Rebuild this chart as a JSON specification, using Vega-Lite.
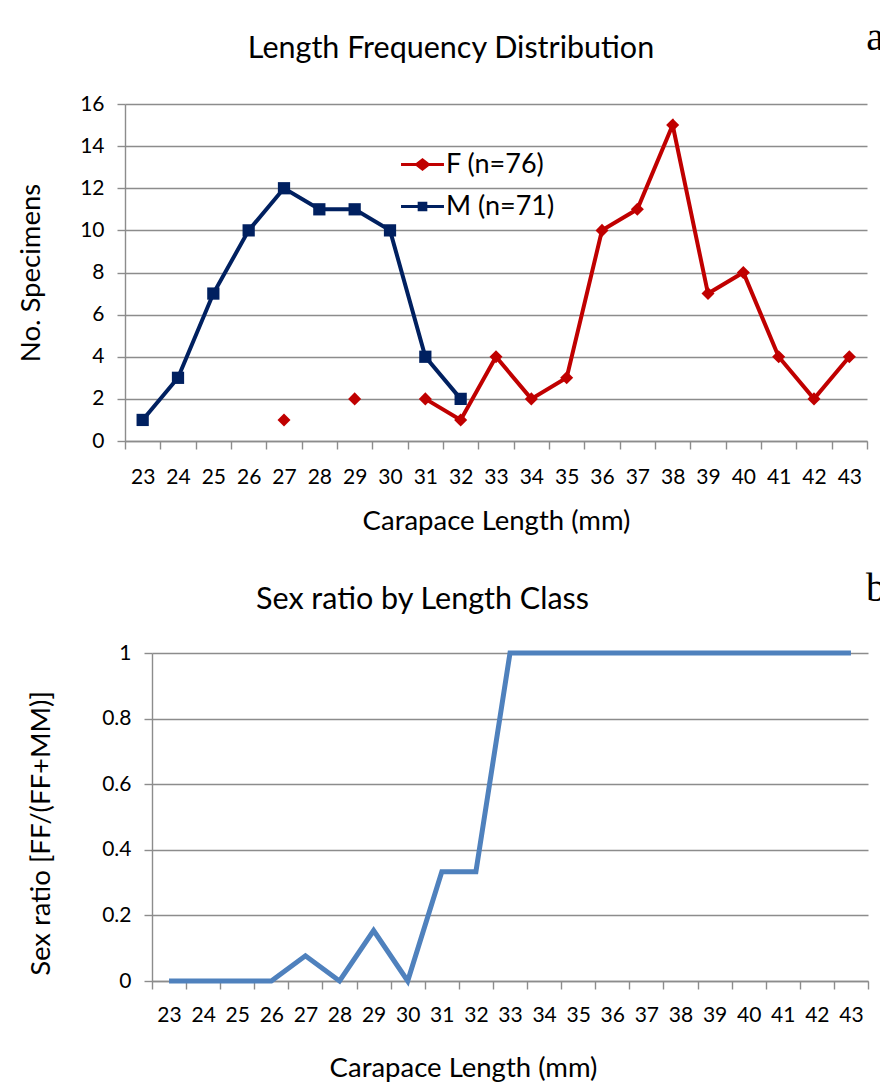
{
  "$schema": "https://vega.github.io/schema/vega-lite/v6.json",
  "padding": {"left": 17, "top": 18, "right": 0, "bottom": 0},
  "background": "white",
  "config": {
    "font": "Lato",
    "view": {"stroke": null},
    "axis": {
      "labelFont": "Lato", "titleFont": "Lato", "labelFontSize": 21, "titleFontSize": 27.5,
      "titleFontWeight": "normal", "labelColor": "#000", "titleColor": "#000",
      "domainColor": "#8c8c8c", "tickColor": "#8c8c8c", "gridColor": "#8c8c8c",
      "tickSize": 8, "domainWidth": 1.4, "gridWidth": 1.3, "tickWidth": 1.4
    },
    "title": {"font": "Lato", "fontSize": 30.5, "fontWeight": "normal", "color": "#000"},
    "legend": {"labelFont": "Lato"}
  },
  "datasets": {
    "freq": [
      {"len": 23, "sex": "M (n=71)", "n": 1},
      {"len": 24, "sex": "M (n=71)", "n": 3},
      {"len": 25, "sex": "M (n=71)", "n": 7},
      {"len": 26, "sex": "M (n=71)", "n": 10},
      {"len": 27, "sex": "M (n=71)", "n": 12},
      {"len": 28, "sex": "M (n=71)", "n": 11},
      {"len": 29, "sex": "M (n=71)", "n": 11},
      {"len": 30, "sex": "M (n=71)", "n": 10},
      {"len": 31, "sex": "M (n=71)", "n": 4},
      {"len": 32, "sex": "M (n=71)", "n": 2},
      {"len": 27, "sex": "F (n=76)", "n": 1},
      {"len": 28, "sex": "F (n=76)", "n": null},
      {"len": 29, "sex": "F (n=76)", "n": 2},
      {"len": 30, "sex": "F (n=76)", "n": null},
      {"len": 31, "sex": "F (n=76)", "n": 2},
      {"len": 32, "sex": "F (n=76)", "n": 1},
      {"len": 33, "sex": "F (n=76)", "n": 4},
      {"len": 34, "sex": "F (n=76)", "n": 2},
      {"len": 35, "sex": "F (n=76)", "n": 3},
      {"len": 36, "sex": "F (n=76)", "n": 10},
      {"len": 37, "sex": "F (n=76)", "n": 11},
      {"len": 38, "sex": "F (n=76)", "n": 15},
      {"len": 39, "sex": "F (n=76)", "n": 7},
      {"len": 40, "sex": "F (n=76)", "n": 8},
      {"len": 41, "sex": "F (n=76)", "n": 4},
      {"len": 42, "sex": "F (n=76)", "n": 2},
      {"len": 43, "sex": "F (n=76)", "n": 4}
    ],
    "ratio": [
      {"len": 23, "ratio": 0},
      {"len": 24, "ratio": 0},
      {"len": 25, "ratio": 0},
      {"len": 26, "ratio": 0},
      {"len": 27, "ratio": 0.0769},
      {"len": 28, "ratio": 0},
      {"len": 29, "ratio": 0.1538},
      {"len": 30, "ratio": 0},
      {"len": 31, "ratio": 0.3333},
      {"len": 32, "ratio": 0.3333},
      {"len": 33, "ratio": 1},
      {"len": 34, "ratio": 1},
      {"len": 35, "ratio": 1},
      {"len": 36, "ratio": 1},
      {"len": 37, "ratio": 1},
      {"len": 38, "ratio": 1},
      {"len": 39, "ratio": 1},
      {"len": 40, "ratio": 1},
      {"len": 41, "ratio": 1},
      {"len": 42, "ratio": 1},
      {"len": 43, "ratio": 1}
    ]
  },
  "vconcat": [
    {
      "width": 742,
      "height": 337,
      "title": {"text": "Length Frequency Distribution", "offset": -46, "dx": -45},
      "layer": [
        {
          "data": {"name": "freq"},
          "mark": {"type": "line", "strokeWidth": 4, "invalid": "break-paths-show-domains"},
          "encoding": {
            "x": {
              "field": "len", "type": "ordinal", "bandPosition": 0.5,
              "scale": {"type": "band", "domain": [23,24,25,26,27,28,29,30,31,32,33,34,35,36,37,38,39,40,41,42,43], "paddingInner": 0, "paddingOuter": 0},
              "axis": {"title": "Carapace Length (mm)", "tickBand": "extent", "labelAngle": 0, "grid": false, "labelPadding": 17, "titlePadding": 20}
            },
            "y": {
              "field": "n", "type": "quantitative",
              "scale": {"domain": [0, 16], "nice": false},
              "axis": {"values": [0,2,4,6,8,10,12,14,16], "title": "No. Specimens", "titlePadding": 34, "labelPadding": 13, "grid": true}
            },
            "color": {
              "field": "sex", "type": "nominal",
              "scale": {"domain": ["F (n=76)", "M (n=71)"], "range": ["#C00000", "#002060"]},
              "legend": {
                "orient": "none", "legendX": 284, "legendY": 47, "title": null,
                "labelFontSize": 27, "symbolSize": 720, "rowPadding": 14, "labelOffset": 10,
                "symbolStrokeWidth": 0,
                "encode": {"symbols": {"update": {
                  "shape": {"signal": "datum.value == 'F (n=76)' ? 'M-1.6,-0.11H-0.48L0,-0.48L0.48,-0.11H1.6V0.11H0.48L0,0.48L-0.48,0.11H-1.6Z' : 'M-1.6,-0.11H-0.36V-0.36H0.36V-0.11H1.6V0.11H0.36V0.36H-0.36V0.11H-1.6Z'"},
                  "fill": {"signal": "datum.value == 'F (n=76)' ? '#C00000' : '#002060'"},
                  "strokeWidth": {"value": 0}
                }}}
              }
            }
          }
        },
        {
          "data": {"name": "freq"},
          "transform": [{"filter": "datum.sex == 'F (n=76)'"}],
          "mark": {"type": "point", "filled": true, "opacity": 1, "size": 170, "shape": "diamond"},
          "encoding": {
            "x": {"field": "len", "type": "ordinal", "bandPosition": 0.5},
            "y": {"field": "n", "type": "quantitative"},
            "color": {"field": "sex", "type": "nominal"}
          }
        },
        {
          "data": {"name": "freq"},
          "transform": [{"filter": "datum.sex == 'M (n=71)'"}],
          "mark": {"type": "point", "filled": true, "opacity": 1, "size": 150, "shape": "square"},
          "encoding": {
            "x": {"field": "len", "type": "ordinal", "bandPosition": 0.5},
            "y": {"field": "n", "type": "quantitative"},
            "color": {"field": "sex", "type": "nominal"}
          }
        },
        {
          "data": {"values": [{"label": "a"}]},
          "mark": {"type": "text", "font": "Liberation Serif", "fontSize": 40, "align": "left", "baseline": "alphabetic", "dx": 17, "color": "#000"},
          "encoding": {
            "x": {"datum": 43, "type": "ordinal"},
            "y": {"datum": 18.56, "type": "quantitative"},
            "text": {"field": "label"}
          }
        }
      ]
    },
    {
      "width": 743,
      "height": 328,
      "title": {"text": "Sex ratio by Length Class", "offset": -47, "dx": -74},
      "layer": [
        {
          "data": {"name": "ratio"},
          "mark": {"type": "line", "color": "#4F81BD", "strokeWidth": 5},
          "encoding": {
            "x": {
              "field": "len", "type": "ordinal", "bandPosition": 0.5,
              "scale": {"type": "band", "domain": [23,24,25,26,27,28,29,30,31,32,33,34,35,36,37,38,39,40,41,42,43], "paddingInner": 0, "paddingOuter": 0, "range": [27, 743]},
              "axis": {"title": "Carapace Length (mm)", "tickBand": "extent", "labelAngle": 0, "grid": false, "labelPadding": 15, "titlePadding": 29, "titleX": 338}
            },
            "y": {
              "field": "ratio", "type": "quantitative",
              "scale": {"domain": [0, 1], "nice": false},
              "axis": {"values": [0,0.2,0.4,0.6,0.8,1], "format": "~g", "title": "Sex ratio [FF/(FF+MM)]", "titlePadding": 46, "labelPadding": 13, "titleY": 180, "grid": true, "offset": -27}
            }
          }
        },
        {
          "data": {"values": [{"label": "b"}]},
          "mark": {"type": "text", "font": "Liberation Serif", "fontSize": 40, "align": "left", "baseline": "alphabetic", "dx": 15, "color": "#000"},
          "encoding": {
            "x": {"datum": 43, "type": "ordinal"},
            "y": {"datum": 1.16, "type": "quantitative"},
            "text": {"field": "label"}
          }
        }
      ]
    }
  ],
  "spacing": 33
}
